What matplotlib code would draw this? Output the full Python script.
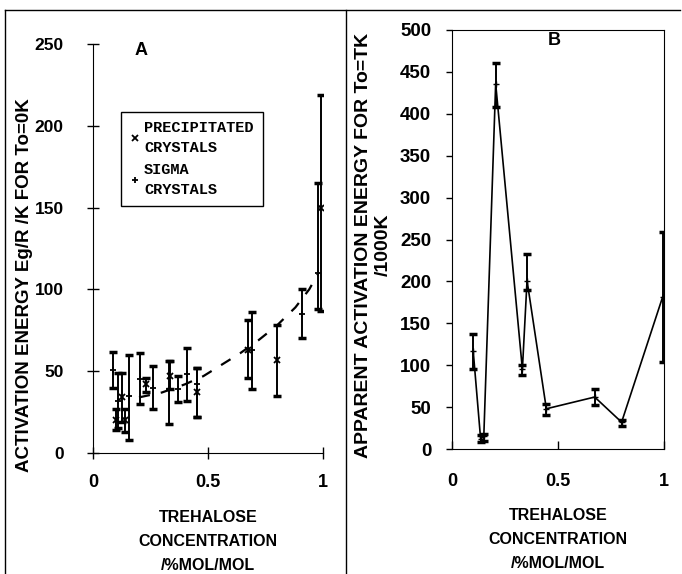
import matplotlib
matplotlib.use("Agg")
import matplotlib.pyplot as plt
from matplotlib.lines import Line2D
import numpy as np

plt.rcParams['font.family'] = ['Liberation Sans', 'DejaVu Sans']
plt.rcParams['font.weight'] = 'bold'
plt.rcParams['font.size'] = 12

# ---- panel A data ----
# sigma crystals (+)
sig_x = [0.085, 0.11, 0.155, 0.205, 0.26, 0.33, 0.37, 0.41, 0.45, 0.69, 0.91, 0.98]
sig_y = [51, 32, 35, 45, 40, 39, 39, 48, 42, 63, 85, 110]
sig_lo = [40, 15, 8, 30, 27, 18, 31, 32, 22, 39, 70, 88]
sig_hi = [62, 49, 60, 61, 53, 56, 47, 64, 52, 86, 100, 165]
# precipitated crystals (x)
pre_x = [0.10, 0.125, 0.14, 0.23, 0.335, 0.45, 0.675, 0.80, 0.99]
pre_y = [20, 34, 20, 42, 47, 37, 63, 57, 150]
pre_lo = [14, 19, 13, 37, 39, 22, 46, 35, 87]
pre_hi = [27, 49, 27, 46, 56, 52, 81, 78, 219]
# dashed trend curve
curve_x = [0.20, 0.30, 0.40, 0.48, 0.56, 0.64, 0.72, 0.80, 0.88, 0.94, 0.98]
curve_y = [34, 37, 42, 47, 54, 61, 69, 78, 89, 100, 110]

# ---- panel B data ----
b_x = [0.10, 0.135, 0.15, 0.206, 0.332, 0.354, 0.445, 0.673, 0.80, 0.993]
b_y = [117, 12, 15, 436, 95, 201, 48, 62, 32, 181]
b_lo = [95, 8, 10, 408, 88, 190, 41, 52, 27, 104]
b_hi = [137, 17, 18, 461, 100, 233, 54, 72, 35, 259]

xlabel = "TREHALOSE\nCONCENTRATION\n/%MOL/MOL"

W, H = 682, 574
fig = plt.figure(figsize=(W / 100, H / 100), dpi=100)

# outer frame lines of the scanned figure
fig.add_artist(Line2D([5 / W, 5 / W], [0, 1 - 10 / H], transform=fig.transFigure, color='black', lw=1))
fig.add_artist(Line2D([5 / W, 680 / W], [1 - 10 / H, 1 - 10 / H], transform=fig.transFigure, color='black', lw=1))
fig.add_artist(Line2D([346 / W, 346 / W], [0, 1 - 10 / H], transform=fig.transFigure, color='black', lw=1))

# ---------------- panel A ----------------
axA = fig.add_axes([93 / W, 1 - 453 / H, 230 / W, 409 / H])
axA.errorbar(sig_x, sig_y, yerr=[np.array(sig_y) - np.array(sig_lo), np.array(sig_hi) - np.array(sig_y)],
             fmt='none', ecolor='black', elinewidth=1.4, capsize=3, capthick=2.5)
axA.errorbar(pre_x, pre_y, yerr=[np.array(pre_y) - np.array(pre_lo), np.array(pre_hi) - np.array(pre_y)],
             fmt='none', ecolor='black', elinewidth=1.4, capsize=3, capthick=2.5)
axA.plot(pre_x, pre_y, 'x', color='black', ms=5, mew=1.3, label='PRECIPITATED\nCRYSTALS')
axA.plot(sig_x, sig_y, '+', color='black', ms=4, mew=1.3, label='SIGMA\nCRYSTALS')
axA.plot(curve_x, curve_y, color='black', lw=1.6, linestyle=(0, (5, 5)))

axA.set_xlim(0, 1)
axA.set_ylim(0, 250)
axA.set_xticks([0, 0.5, 1])
axA.set_xticklabels(['0', '0.5', '1'])
axA.set_yticks([0, 50, 100, 150, 200, 250])
axA.spines['top'].set_visible(False)
axA.spines['right'].set_visible(False)
axA.tick_params(axis='both', direction='inout', length=8, width=1)
axA.tick_params(axis='y', pad=17, labelsize=12.5)
axA.tick_params(axis='x', pad=11, labelsize=13)
axA.set_xlabel(xlabel, fontsize=11.5, fontweight='bold', linespacing=1.75, labelpad=14)
axA.set_ylabel("ACTIVATION ENERGY Eg/R /K FOR To=0K", fontsize=13.5, fontweight='bold')
axA.yaxis.set_label_coords(-0.26, 0.41)
axA.text(0.18, 0.985, 'A', transform=axA.transAxes, fontsize=13, fontweight='bold', va='center')

leg = axA.legend(loc='upper left', bbox_to_anchor=(0.122, 0.834), borderaxespad=0,
                 prop={'family': 'Liberation Mono', 'weight': 'bold', 'size': 11},
                 handlelength=0.6, handletextpad=0.3, labelspacing=0.5, fancybox=False,
                 edgecolor='black', framealpha=1, borderpad=0.6)
leg.get_frame().set_linewidth(1)
for t in leg.get_texts():
    t.set_linespacing(1.55)

# ---------------- panel B ----------------
axB = fig.add_axes([452 / W, 1 - 449 / H, 212 / W, 419 / H])
axB.errorbar(b_x, b_y, yerr=[np.array(b_y) - np.array(b_lo), np.array(b_hi) - np.array(b_y)],
             color='black', lw=1.2, elinewidth=1.4, capsize=3, capthick=2.5, marker='+', ms=4)
axB.set_xlim(0, 1)
axB.set_ylim(0, 500)
axB.set_xticks([0, 0.5, 1])
axB.set_xticklabels(['0', '0.5', '1'])
axB.set_yticks(np.arange(0, 501, 50))
axB.tick_params(axis='y', direction='out', length=4, width=1, labelsize=13.5, pad=11)
axB.tick_params(axis='x', direction='in', length=6, width=1, labelsize=13, pad=17)
axB.set_xlabel(xlabel, fontsize=11.5, fontweight='bold', linespacing=1.75, labelpad=13)
axB.set_ylabel("APPARENT ACTIVATION ENERGY FOR To=TK\n/1000K", fontsize=14, fontweight='bold',
               linespacing=1.25)
axB.yaxis.set_label_coords(-0.283, 0.487)
axB.text(0.48, 0.975, 'B', transform=axB.transAxes, fontsize=13, fontweight='bold',
         va='center', ha='center')

fig.savefig('out.png', dpi=100)
